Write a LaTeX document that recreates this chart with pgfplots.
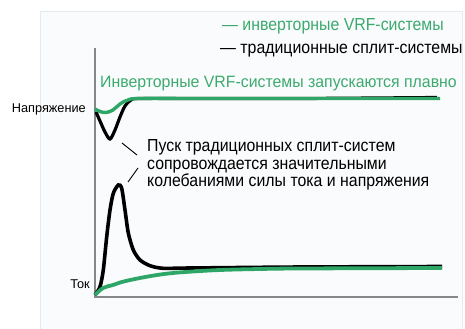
\documentclass[border=0pt]{standalone}
\usepackage{pgfplots}
\pgfplotsset{compat=1.18}
\usepackage{fontspec}
\setmainfont{Liberation Sans}
\newfontfamily\narrowfont[FakeStretch=0.91]{Liberation Sans}
\newfontfamily\midfont[FakeStretch=0.964]{Liberation Sans}
\definecolor{vrf}{RGB}{46,166,104}
\definecolor{vrftext}{RGB}{60,170,110}
\definecolor{axgray}{RGB}{135,135,135}
\definecolor{panel}{RGB}{250,251,252}
\definecolor{paneledge}{RGB}{228,236,242}
\begin{document}
\begin{tikzpicture}
\path[use as bounding box] (0,0) rectangle (465bp,329bp);
\begin{axis}[at={(0,0)},anchor=south west,width=465bp,height=329bp,scale only axis,
  xmin=0,xmax=465,ymin=0,ymax=329,hide axis,clip=false]
% panel
\addplot[draw=paneledge,fill=panel,line width=0.8pt] coordinates {(40,318) (462,318) (462,0) (40,0) (40,318)};
% axes
\addplot[axgray,line width=1.8pt] coordinates {(95,281) (95,31)};
\addplot[axgray,line width=1.8pt] coordinates {(95,32) (458,32)};
% black voltage (traditional)
\addplot[black,line width=3.2pt,smooth,tension=0.5] coordinates {(96,217) (100,208) (105,197) (110,190) (115,199) (120,212) (125,223) (131,229) (140,230.5) (200,230.5) (300,230.5) (437,231.5)};
% green voltage (VRF)
\addplot[vrf,line width=3.4pt,smooth,tension=0.6] coordinates {(95,220) (100,217.5) (106,216.5) (113,219) (120,225) (128,229) (140,230.5) (200,230.5) (300,230.5) (440,230.5)};
% black current
\addplot[black,line width=3.6pt,smooth,tension=0.45] coordinates {(95,34) (100,42.3) (103.3,59) (106.7,92.3) (110,119) (113.3,135.7) (118.3,144) (121.7,140.7) (125,119) (128.3,96) (133.3,79) (140,69) (150,63.3) (163,60.7) (190,61) (300,62) (442,62.5)};
% green current
\addplot[vrf,line width=3.8pt,smooth,tension=0.6] coordinates {(95,34) (103,41) (113,44) (123,47.3) (140,51) (157,54) (173,56) (190,57.3) (220,59) (260,60) (300,60.5) (442,61)};
% leader lines
\addplot[black,line width=0.9pt] coordinates {(122,186) (137,174)};
\addplot[black,line width=0.9pt] coordinates {(128,147) (138,161)};
% texts
\node[anchor=base west,inner sep=0pt,text=vrftext,font=\narrowfont\fontsize{17.5}{20}\selectfont] at (axis cs:222,298) {— инверторные VRF-системы};
\node[anchor=base west,inner sep=0pt,text=black,font=\narrowfont\fontsize{17.5}{20}\selectfont] at (axis cs:220,275.7) {— традиционные сплит-системы};
\node[anchor=base west,inner sep=0pt,text=vrftext,font=\midfont\fontsize{16.5}{19}\selectfont] at (axis cs:100,241.7) {Инверторные VRF-системы запускаются плавно};
\node[anchor=base east,inner sep=0pt,font=\fontsize{12.8}{15}\selectfont] at (axis cs:86,216) {Напряжение};
\node[anchor=base east,inner sep=0pt,font=\fontsize{12.8}{15}\selectfont] at (axis cs:90,40) {Ток};
\node[anchor=base west,inner sep=0pt,font=\narrowfont\fontsize{17.5}{20}\selectfont] at (axis cs:147,177) {Пуск традиционных сплит-систем};
\node[anchor=base west,inner sep=0pt,font=\narrowfont\fontsize{17.5}{20}\selectfont] at (axis cs:147,159.5) {сопровождается значительными};
\node[anchor=base west,inner sep=0pt,font=\narrowfont\fontsize{17.5}{20}\selectfont] at (axis cs:147,142) {колебаниями силы тока и напряжения};
\end{axis}
\end{tikzpicture}
\end{document}
